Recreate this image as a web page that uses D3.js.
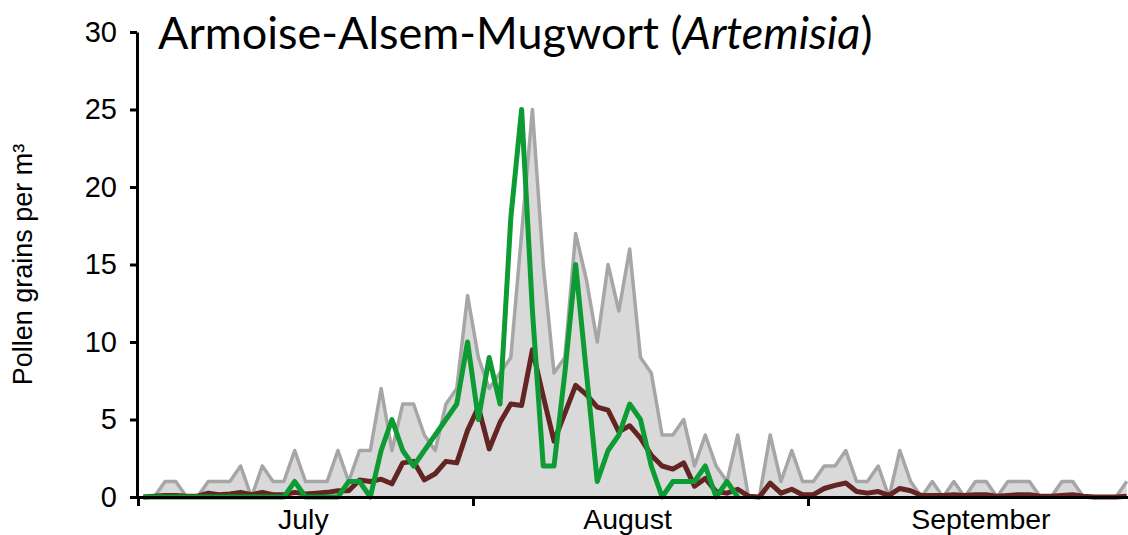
<!DOCTYPE html>
<html>
<head>
<meta charset="utf-8">
<script src="https://cdn.jsdelivr.net/npm/d3@7"></script>
<style>
  body { margin: 0; background: #fff; }
  svg { display: block; }
  .axis text { font-family: "Liberation Sans", Arial, sans-serif; font-size: 28px; fill: #000; }
  .axis path, .axis line { stroke: #000; stroke-width: 3px; }
</style>
</head>
<body>
<svg class="chart"></svg>
<script>
// daily values, 1 July .. 30 September (92 days)
const months = ["July", "August", "September"];
const monthStarts = [0, 31, 62, 92];
// label anchor (day index) for each month name
const monthLabelDays = [15.3, 45.3, 78];
const yTicks = [0, 5, 10, 15, 20, 25, 30];

// grey area (other season)
const greyValues = [
  0, 0, 1, 1, 0, 0, 1, 1, 1, 2, 0, 2, 1, 1, 3, 1, 1, 1, 3, 1, 3, 3, 7, 3, 6, 6, 4, 3, 6, 7, 13,
  9, 7, 8, 9, 17, 25, 15, 8, 9, 17, 14, 10, 15, 12, 16, 9, 8, 4, 4, 5, 2, 4, 2, 1, 4, 0, 0, 4, 1, 3,
  1, 1, 2, 2, 3, 1, 1, 2, 0, 3, 1, 0, 1, 0, 1, 0, 1, 1, 0, 1, 1, 1, 0, 0, 1, 1, 0, 0, 0, 0, 1
];

// brown line (mean)
const meanValues = [
  0, 0.05, 0.1, 0.1, 0.05, 0.05, 0.25, 0.15, 0.2, 0.3, 0.15, 0.3, 0.15, 0.15, 0.3, 0.2, 0.25, 0.3, 0.4, 0.4,
  1.1, 1.0, 1.15, 0.85, 2.2, 2.3, 1.1, 1.5, 2.3, 2.2, 4.3,
  5.8, 3.1, 4.8, 6.0, 5.9, 9.5, 6.5, 3.6, 5.4, 7.2, 6.6, 5.8, 5.6, 4.2, 4.6, 3.8, 2.7, 2.0, 1.8, 2.2,
  0.7, 1.2, 0.35, 0.25, 0.5, 0.05, 0, 0.9, 0.25, 0.5, 0.15,
  0.15, 0.55, 0.75, 0.9, 0.35, 0.25, 0.35, 0.1, 0.55, 0.4, 0.1, 0.1, 0.1, 0.15, 0.1, 0.15, 0.15, 0.05,
  0.1, 0.15, 0.15, 0.05, 0.05, 0.1, 0.15, 0.05, 0, 0, 0, 0.05
];

// green line (current season, stops 25 August)
const currentValues = [
  0, 0, 0, 0, 0, 0, 0, 0, 0, 0, 0, 0, 0, 0, 1, 0, 0, 0, 0, 1, 1, 0, 3, 5, 3, 2, 3, 4, 5, 6, 10,
  5, 9, 6, 18, 25, 12, 2, 2, 8, 15, 8, 1, 3, 4, 6, 5, 2, 0, 1, 1, 1, 2, 0, 1, 0
];

const width = 1128;
const height = 535;
const margin = {top: 32, left: 138, bottom: 38};
const dayWidth = 10.806;
const plotBottom = height - margin.bottom;

const x = d3.scaleLinear()
  .domain([0, 92])
  .range([margin.left, margin.left + 92 * dayWidth]);

const y = d3.scaleLinear()
  .domain([0, 30])
  .range([plotBottom, margin.top]);

const svg = d3.select('.chart')
  .attr('width', width)
  .attr('height', height);

const area = d3.area()
  .x(function(d, i) { return x(i + 0.5); })
  .y0(y(0))
  .y1(function(d) { return y(d); });

const line = d3.line()
  .x(function(d, i) { return x(i + 0.5); })
  .y(function(d) { return y(d); });

svg.append('path')
  .datum(greyValues)
  .attr('fill', '#d9d9d9')
  .attr('d', area);

svg.append('path')
  .datum(greyValues)
  .attr('fill', 'none')
  .attr('stroke', '#a6a6a6')
  .attr('stroke-width', 3.5)
  .attr('stroke-linejoin', 'round')
  .attr('d', line);

svg.append('path')
  .datum(meanValues)
  .attr('fill', 'none')
  .attr('stroke', '#632523')
  .attr('stroke-width', 5)
  .attr('stroke-linejoin', 'round')
  .attr('d', line);

svg.append('path')
  .datum(currentValues)
  .attr('fill', 'none')
  .attr('stroke', '#0d9b33')
  .attr('stroke-width', 5)
  .attr('stroke-linejoin', 'round')
  .attr('d', line);

// x axis
const xAxis = d3.axisBottom(x)
  .tickValues(monthStarts)
  .tickSize(9)
  .tickSizeOuter(0)
  .tickFormat('');

svg.append('g')
  .attr('class', 'x axis')
  .attr('transform', `translate(0, ${plotBottom})`)
  .call(xAxis);

svg.append('g')
  .attr('class', 'axis')
  .selectAll('text')
  .data(months)
  .enter()
.append('text')
  .attr('x', function(d, i) { return x(monthLabelDays[i]); })
  .attr('y', 529)
  .style('text-anchor', 'middle')
  .style('font-size', '28.5px')
  .text(function(d) { return d; });

// y axis
const yAxis = d3.axisLeft(y)
  .tickValues(yTicks)
  .tickSize(7)
  .tickSizeOuter(0)
  .tickPadding(13);

svg.append('g')
  .attr('class', 'y axis')
  .attr('transform', `translate(${margin.left - 1}, 0)`)
  .call(yAxis)
  .selectAll('text')
  .style('font-size', '29px');

svg.append('text')
  .attr('class', 'axis')
  .attr('transform', `translate(32, ${(margin.top + plotBottom) / 2}) rotate(-90)`)
  .style('text-anchor', 'middle')
  .style('font-family', '"Liberation Sans", Arial, sans-serif')
  .style('font-size', '27px')
  .text('Pollen grains per m³');

// title
const title = svg.append('text')
  .attr('x', 158)
  .attr('y', 49)
  .style('font-family', 'Lato, "Open Sans", sans-serif')
  .style('font-size', '45px')
  .attr('fill', '#000');
title.append('tspan').text('Armoise-Alsem-Mugwort (');
title.append('tspan').style('font-style', 'italic').text('Artemisia');
title.append('tspan').text(')');
</script>
</body>
</html>
